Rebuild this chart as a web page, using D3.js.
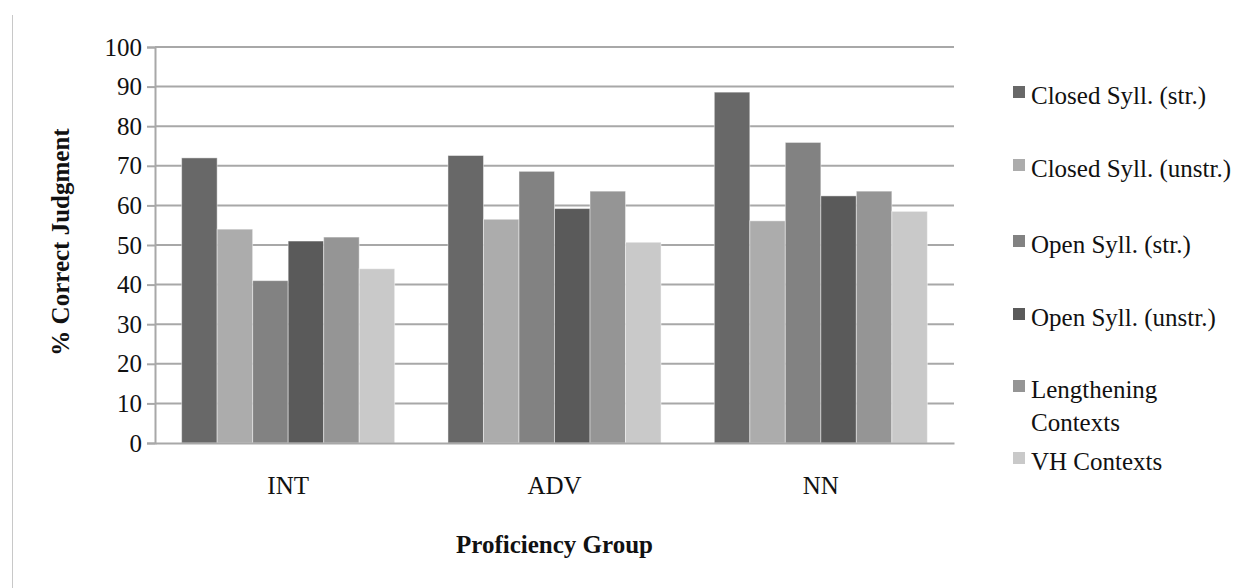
<!DOCTYPE html>
<html>
<head>
<meta charset="utf-8">
<script src="https://cdn.jsdelivr.net/npm/d3@7"></script>
<style>
  html, body { margin: 0; padding: 0; background: #fff; }
  svg { display: block; }
  svg text, svg tspan { font-family: "Liberation Serif", serif !important; fill: #111; }
</style>
</head>
<body>
<svg id="chart" width="1237" height="588" font-family="Liberation Serif"></svg>
<script>
const SERIF = "Liberation Serif";

// Proficiency groups on the x axis
const groups = ["INT", "ADV", "NN"];

// Context types (one bar per context in each group)
const seriesNames = [
  "Closed Syll. (str.)",
  "Closed Syll. (unstr.)",
  "Open Syll. (str.)",
  "Open Syll. (unstr.)",
  "Lengthening Contexts",
  "VH Contexts"
];

// % correct judgment per context, in group order INT, ADV, NN
const closedStr   = [72, 72.6, 88.6];
const closedUnstr = [54, 56.5, 56.1];
const openStr     = [41, 68.6, 75.9];
const openUnstr   = [51, 59.2, 62.4];
const lengthening = [52, 63.6, 63.6];
const vhContexts  = [44, 50.7, 58.5];

const yTicks = [0, 10, 20, 30, 40, 50, 60, 70, 80, 90, 100];

const seriesValues = [closedStr, closedUnstr, openStr, openUnstr, lengthening, vhContexts];
const colors = ["#686868", "#acacac", "#828282", "#5a5a5a", "#959595", "#c9c9c9"];

const svg = d3.select("#chart");

const plot = { left: 155, right: 954, top: 47, bottom: 443 };

const x0 = d3.scaleBand()
  .domain(groups)
  .range([plot.left, plot.right])
  .paddingInner(0)
  .paddingOuter(0);

const x1 = d3.scaleBand()
  .domain(seriesNames)
  .range([0, x0.bandwidth()])
  .paddingInner(0)
  .paddingOuter(0.75);

const y = d3.scaleLinear()
  .domain([0, 100])
  .range([plot.bottom, plot.top]);

const color = d3.scaleOrdinal().domain(seriesNames).range(colors);

// thin frame line on the left edge
svg.append("line")
  .attr("x1", 12.5).attr("x2", 12.5)
  .attr("y1", 15).attr("y2", 588)
  .attr("stroke", "#c8c8c8").attr("stroke-width", 1);

// horizontal gridlines
svg.append("g")
  .selectAll("line")
  .data(yTicks.filter(d => d > 0))
  .join("line")
  .attr("x1", plot.left)
  .attr("x2", plot.right)
  .attr("y1", d => y(d))
  .attr("y2", d => y(d))
  .attr("stroke", "#a8a8a8")
  .attr("stroke-width", 2);

// bars
const rows = groups.map((g, gi) => ({
  group: g,
  values: seriesNames.map((s, si) => ({ series: s, value: seriesValues[si][gi] }))
}));

svg.append("g")
  .selectAll("g")
  .data(rows)
  .join("g")
  .attr("transform", d => `translate(${x0(d.group)},0)`)
  .selectAll("rect")
  .data(d => d.values)
  .join("rect")
  .attr("x", d => x1(d.series))
  .attr("width", x1.bandwidth())
  .attr("y", d => y(d.value))
  .attr("height", d => y(0) - y(d.value))
  .attr("fill", d => color(d.series))
  .attr("stroke", "rgba(255,255,255,0.45)")
  .attr("stroke-width", 1);

// y axis
const yAxis = d3.axisLeft(y)
  .tickValues(yTicks)
  .tickSize(8)
  .tickPadding(5)
  .tickFormat(d3.format("d"));

const gy = svg.append("g")
  .attr("transform", `translate(${plot.left},0)`)
  .call(yAxis)
  .attr("font-family", SERIF)
  .attr("font-size", 25);
gy.select(".domain").attr("stroke", "#a8a8a8").attr("stroke-width", 2);
gy.selectAll(".tick line").attr("stroke", "#a8a8a8").attr("stroke-width", 2);
gy.selectAll(".tick text")
  .attr("font-size", 25)
  .attr("font-family", SERIF)
  .attr("fill", "#111");

// x axis
const xAxis = d3.axisBottom(x0).tickSize(0).tickPadding(0);
const gx = svg.append("g")
  .attr("transform", `translate(0,${plot.bottom})`)
  .call(xAxis)
  .attr("font-family", SERIF)
  .attr("font-size", 25);
gx.select(".domain").attr("stroke", "#a8a8a8").attr("stroke-width", 2);
gx.selectAll(".tick text")
  .attr("font-size", 25)
  .attr("font-family", SERIF)
  .attr("fill", "#111")
  .attr("dy", null)
  .attr("y", 51);

// axis titles
svg.append("text")
  .attr("x", (plot.left + plot.right) / 2)
  .attr("y", 553)
  .attr("text-anchor", "middle")
  .attr("font-family", SERIF)
  .attr("font-size", 25)
  .attr("font-weight", "bold")
  .text("Proficiency Group");

svg.append("text")
  .attr("transform", "translate(69,242) rotate(-90)")
  .attr("text-anchor", "middle")
  .attr("font-family", SERIF)
  .attr("font-size", 25)
  .attr("font-weight", "bold")
  .text("% Correct Judgment");

// legend
const legendItems = [
  { name: seriesNames[0], lines: ["Closed Syll. (str.)"], cy: 96 },
  { name: seriesNames[1], lines: ["Closed Syll. (unstr.)"], cy: 169 },
  { name: seriesNames[2], lines: ["Open Syll. (str.)"], cy: 245 },
  { name: seriesNames[3], lines: ["Open Syll. (unstr.)"], cy: 318 },
  { name: seriesNames[4], lines: ["Lengthening", "Contexts"], cy: 390 },
  { name: seriesNames[5], lines: ["VH Contexts"], cy: 462 }
];

const legend = svg.append("g");
const li = legend.selectAll("g")
  .data(legendItems)
  .join("g")
  .attr("transform", d => `translate(1013,${d.cy})`);

li.append("rect")
  .attr("x", 0)
  .attr("y", -10)
  .attr("width", 12)
  .attr("height", 12)
  .attr("fill", d => color(d.name));

li.append("text")
  .attr("x", 18)
  .attr("y", 8)
  .attr("font-family", SERIF)
  .attr("font-size", 25)
  .selectAll("tspan")
  .data(d => d.lines)
  .join("tspan")
  .attr("x", 18)
  .attr("dy", (d, i) => i === 0 ? 0 : 33)
  .attr("font-family", SERIF)
  .text(d => d);
</script>
</body>
</html>
